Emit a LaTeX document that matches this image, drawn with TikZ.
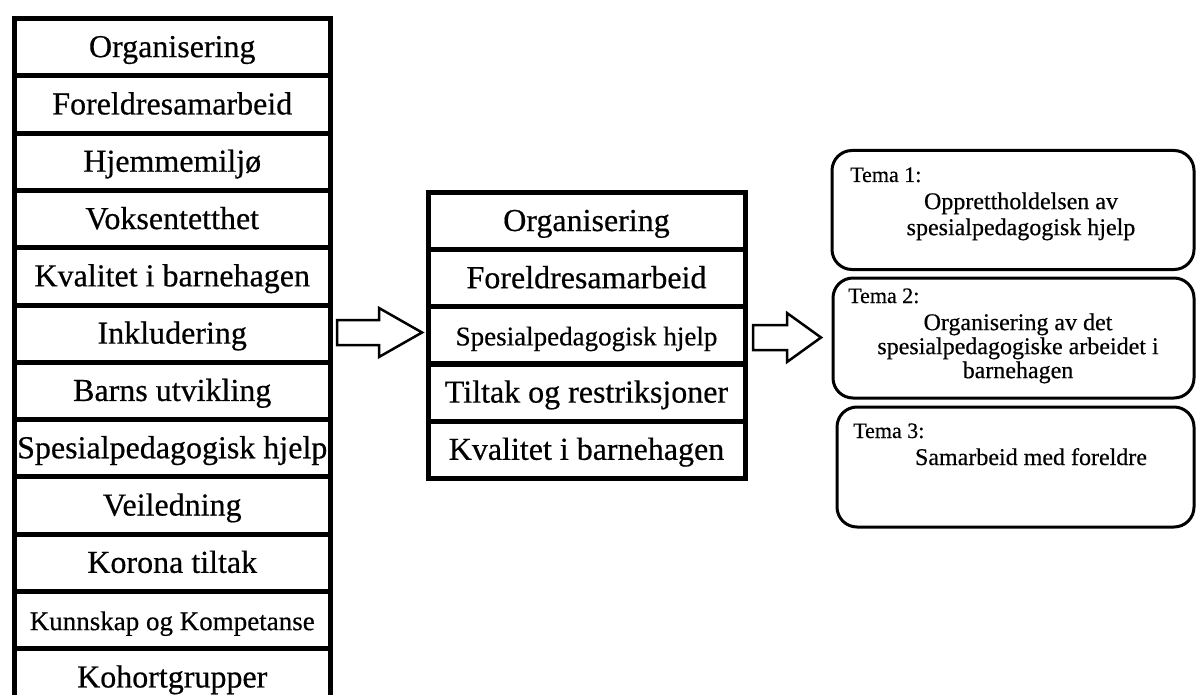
\documentclass[tikz,border=0pt]{standalone}
\usepackage{fontspec}
\setmainfont{Liberation Serif}[FakeBold=0.5]
\begin{document}
\begin{tikzpicture}[x=1pt, y=-1pt,
	cell/.style={draw, line width=5pt, minimum width=316.5pt, minimum height=57.3pt, inner sep=0pt, text height=20pt, text depth=0pt},
	tema/.style={draw, line width=3pt, rounded corners=20pt, minimum width=361pt, minimum height=119pt},
	lab/.style={anchor=base west, inner sep=0pt, font=\fontsize{22}{26}\selectfont},
	txt/.style={align=center, inner sep=0pt, font=\fontsize{24}{26}\selectfont},
	pil/.style={line width=2.5pt, line join=miter}]
			\useasboundingbox (0,0) rectangle (1196,695);
			\clip (0,0) rectangle (1196,695);

			% left column
			\foreach \t/\f [count=\i] in {Organisering/32, Foreldresamarbeid/32, Hjemmemiljø/32, Voksentetthet/32, Kvalitet i barnehagen/32, Inkludering/32, Barns utvikling/32, Spesialpedagogisk hjelp/32, Veiledning/32, Korona tiltak/32, Kunnskap og Kompetanse/27, Kohortgrupper/32}
				\node[cell, font=\fontsize{\f}{\f}\selectfont] (l\i) at (172.25, 47.15+57.3*\i-57.3) {\t};

			% middle column
			\foreach \t/\f [count=\i] in {Organisering/32, Foreldresamarbeid/32, Spesialpedagogisk hjelp/27, Tiltak og restriksjoner/32, Kvalitet i barnehagen/32}
				\node[cell, minimum width=317pt, font=\fontsize{\f}{\f}\selectfont] (m\i) at (586.5, 221+57.2*\i-57.2) {\t};

			% themes
			\node[tema, minimum width=362pt] (t1) at (1013, 210) {};
			\node[tema, minimum height=120pt] (t2) at (1013.5, 338) {};
			\node[tema, minimum width=357pt, minimum height=120pt] (t3) at (1015.5, 467) {};

			\node[lab] (t1lab) at (850, 182) {Tema 1:};
			\node[lab] (t2lab) at (848, 303) {Tema 2:};
			\node[lab] (t3lab) at (853, 438) {Tema 3:};

			\node[txt] (t1txt) at (1021, 216.4) {Opprettholdelsen av\\spesialpedagogisk hjelp};
			\node[txt, font=\fontsize{24}{24}\selectfont] (t2txt) at (1018, 348.4) {Organisering av det\\spesialpedagogiske arbeidet i\\barnehagen};
			\node[txt, anchor=base] (t3txt) at (1031, 465) {Samarbeid med foreldre};

			% arrows
			\coordinate (a1) at (337, 332.5);
			\coordinate (a1t) at (422, 332.5);
			\coordinate (a2) at (753, 337.5);
			\coordinate (a2t) at (821, 337.5);
			\draw[pil] (a1) ++(0,-12.5) -- ++(42,0) -- ++(0,-12) -- (a1t) -- ++(-43,24.5) -- ++(0,-12) -- ++(-42,0) -- cycle;
			\draw[pil] (a2) ++(0,-12.5) -- ++(34,0) -- ++(0,-12) -- (a2t) -- ++(-34,24.5) -- ++(0,-12) -- ++(-34,0) -- cycle;
		\end{tikzpicture}
\end{document}
